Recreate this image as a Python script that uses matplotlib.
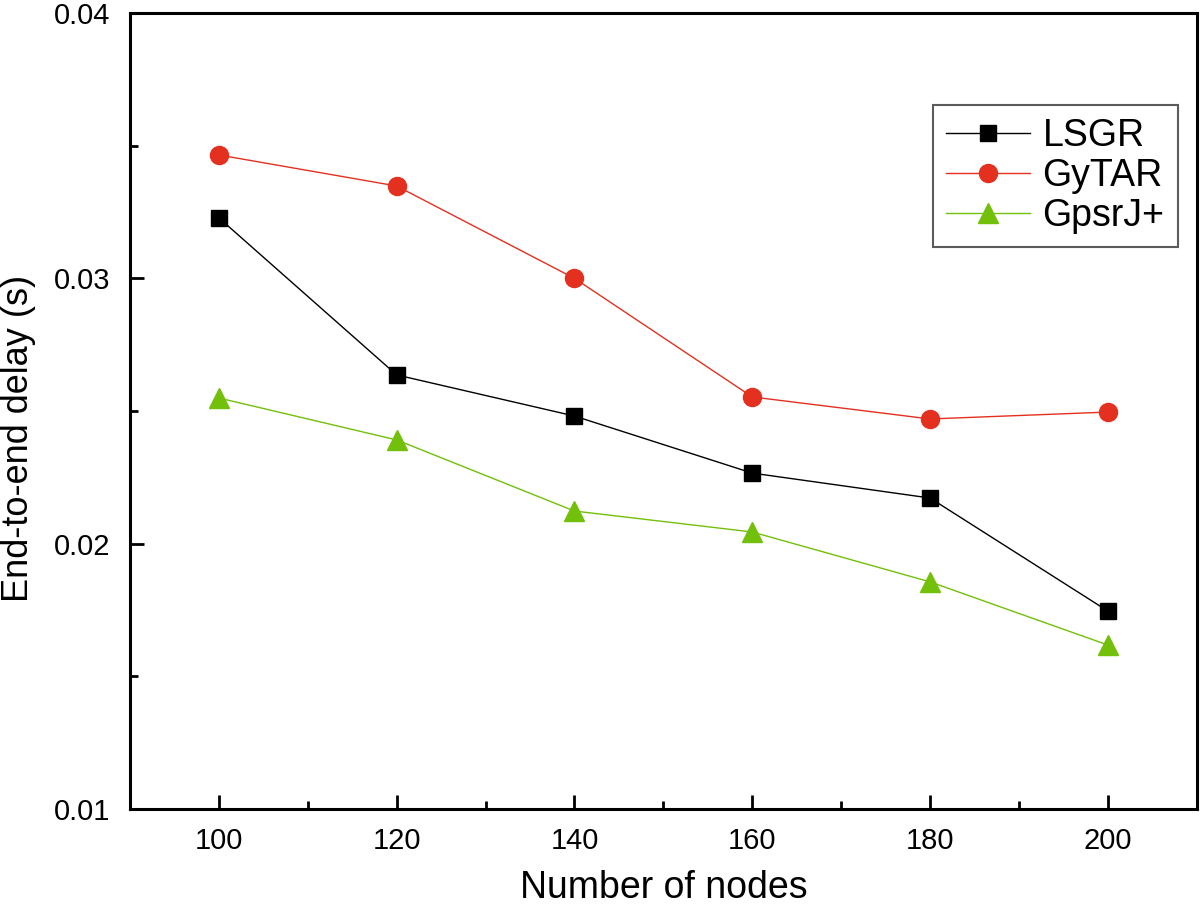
import matplotlib
matplotlib.use("Agg")
import matplotlib.pyplot as plt
from matplotlib.ticker import MultipleLocator

plt.rcParams['font.family'] = ['Liberation Sans', 'DejaVu Sans']

nodes = [100, 120, 140, 160, 180, 200]
lsgr = [0.03228, 0.02636, 0.02481, 0.02266, 0.02172, 0.01746]
gytar = [0.03465, 0.03348, 0.03000, 0.02553, 0.02470, 0.02496]
gpsrj = [0.02549, 0.02391, 0.02123, 0.02044, 0.01856, 0.01618]

fig = plt.figure(figsize=(12, 9.1), dpi=100)
ax = fig.add_axes([0.1083, 0.111, 0.889, 0.8747])

ax.plot(nodes, lsgr, color='black', lw=1.0, marker='s', ms=12, label='LSGR')
ax.plot(nodes, gytar, color='#e3301f', lw=1.0, marker='o', ms=13, label='GyTAR')
ax.plot(nodes, gpsrj, color='#72c00a', lw=1.0, marker='^', ms=14, label='GpsrJ+')

ax.set_xlim(90, 210)
ax.set_ylim(0.01, 0.04)
ax.set_xticks(nodes)
ax.set_yticks([0.01, 0.02, 0.03, 0.04])
ax.set_yticklabels(['0.01', '0.02', '0.03', '0.04'])
ax.xaxis.set_minor_locator(MultipleLocator(10))
ax.yaxis.set_minor_locator(MultipleLocator(0.005))
ax.tick_params(which='both', direction='in', top=False, right=False, labelsize=21, width=2)
ax.tick_params(axis='x', pad=13)
ax.tick_params(axis='y', pad=14)
ax.tick_params(which='major', length=10)
ax.tick_params(which='minor', length=6)
for s in ax.spines.values():
    s.set_linewidth(2.2)

ax.set_xlabel('Number of nodes', fontsize=27, labelpad=11)
ax.set_ylabel('End-to-end delay (s)', fontsize=26)
ax.yaxis.set_label_coords(-0.088, 0.465)

leg = ax.legend(loc='upper right', bbox_to_anchor=(0.982, 0.884), borderaxespad=0,
                fontsize=27, fancybox=False, handlelength=2.24, handletextpad=0.32,
                labelspacing=0.1, borderpad=0.35)
leg.get_frame().set_edgecolor('#333333')
leg.get_frame().set_linewidth(1.5)

fig.savefig('out.png', dpi=100)
